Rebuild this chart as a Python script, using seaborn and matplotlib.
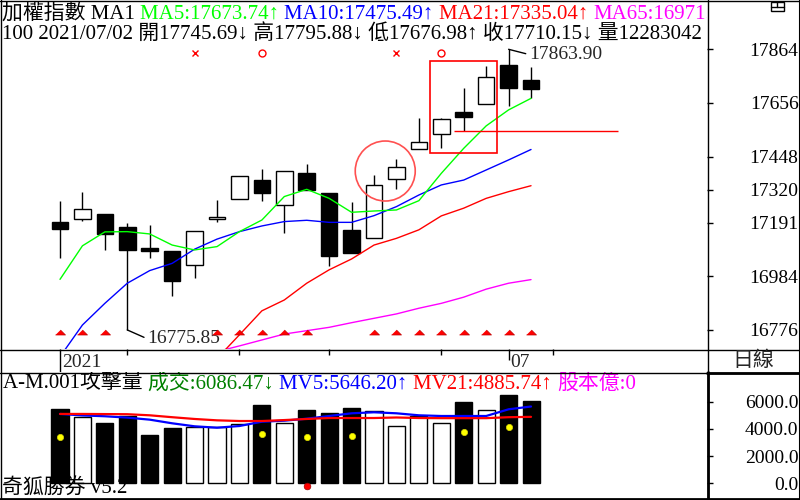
import matplotlib
matplotlib.use('Agg')
import matplotlib.pyplot as plt
import numpy as np
import pandas as pd
import seaborn as sns
from matplotlib.lines import Line2D
from matplotlib.patches import Rectangle
from matplotlib.transforms import IdentityTransform, blended_transform_factory

W, H = 800, 500

# daily bars 2021/06/02 .. 2021/07/02 (22 sessions)
opens = [17193, 17205, 17226, 17175, 17093, 17082, 17027, 17205, 17283, 17357, 17259,
         17384, 17307, 17164, 17131, 17360, 17476, 17534, 17621, 17651, 17803, 17745.69]
highs = [17276, 17311, 17226, 17191, 17183, 17082, 17160, 17279, 17372, 17400, 17392,
         17419, 17307, 17272, 17377, 17439, 17598, 17598, 17714, 17799, 17863.90, 17795.88]
lows = [17056, 17200, 17086, 16775.85, 17056, 16909, 16979, 17196, 17283, 17277, 17153,
        17320, 17025, 17076, 17131, 17324, 17476, 17483, 17547, 17651, 17645, 17676.98]
closes = [17169, 17244, 17149, 17087, 17080, 16967, 17159, 17213, 17372, 17308, 17392,
          17320, 17064, 17076, 17338, 17407, 17504, 17593, 17600, 17755, 17715, 17710.15]

ma5 = [16972, 17102, 17156, 17157, 17148, 17105, 17086, 17099, 17157, 17202, 17293,
       17321, 17286, 17232, 17237, 17241, 17277, 17383, 17480, 17567, 17629, 17673.74]
ma10 = [16672, 16795, 16879, 16957, 17006, 17034, 17089, 17128, 17157, 17179, 17196,
        17201, 17193, 17193, 17219, 17254, 17299, 17338, 17357, 17396, 17435, 17475.49]
ma21 = [16350, 16390, 16430, 16470, 16510, 16560, 16610, 16665, 16757, 16850, 16892,
        16957, 17009, 17051, 17105, 17131, 17164, 17218, 17248, 17286, 17312, 17335.04]
ma65 = [16530, 16550, 16570, 16590, 16610, 16640, 16668, 16692, 16714, 16737, 16760,
        16773, 16786, 16804, 16821, 16838, 16860, 16879, 16903, 16934, 16957, 16971.00]

# attack volume panel
vol = [5463, 4853, 4456, 4949, 3551, 4066, 4162, 4162, 4360, 5779, 4434,
       5412, 5191, 5537, 5316, 4213, 4926, 4434, 5978, 5390, 6493, 6086.47]
mv5 = [5100, 4990, 4930, 4830, 4680, 4412, 4191, 4088, 4213, 4529, 4603,
       4750, 4949, 5147, 5221, 5147, 5000, 4949, 4949, 4949, 5441, 5646.20]
mv21 = [5100, 5100, 5090, 5080, 5000, 4860, 4730, 4630, 4580, 4580, 4650,
        4730, 4800, 4800, 4800, 4840, 4800, 4790, 4790, 4790, 4860, 4885.74]
yellow_dots = [3426, np.nan, np.nan, np.nan, np.nan, np.nan, np.nan, np.nan, np.nan, 3625, np.nan,
               3404, np.nan, 3478, np.nan, np.nan, np.nan, np.nan, 3772, np.nan, 4140, np.nan]
red_dots = [np.nan] * 11 + [-176] + [np.nan] * 10

# signals
tri_flags = [1, 1, 1, 0, 0, 0, 0, 1, 1, 1, 1, 1, 0, 0, 1, 1, 1, 1, 1, 1, 1, 1]
sig_idx = [6, 9, 15, 17]
sig_kind = ['x', 'o', 'x', 'o']

price_ticks = [17864, 17656, 17448, 17320, 17191, 16984, 16776]
vol_ticks = [6000, 4000, 2000, 0]
vol_tick_labels = ['6000.0', '4000.0', '2000.0', '0.0']
date_tick_idx = [0, 3, 8, 12, 17, 20, 22]
date_tick_labels = ['2021', '', '', '', '', '07', '']

GREEN, BLUE, RED, MAGENTA = '#00ff00', '#0000ff', '#ff0000', '#ff00ff'

sns.set_style('white')
plt.rcParams['font.family'] = ['Liberation Serif', 'Noto Sans CJK TC']
FS = 14
HFS = 15

fig = plt.figure(figsize=(8, 5), dpi=100)


def fbox(x0, y0, x1, y1):
    return [x0 / W, 1 - y1 / H, (x1 - x0) / W, (y1 - y0) / H]


def fline(x0, y0, x1, y1, lw=1):
    fig.add_artist(Line2D([x0 / W, x1 / W], [1 - y0 / H, 1 - y1 / H],
                          transform=fig.transFigure, color='black', lw=lw))


ax_p = fig.add_axes(fbox(0, 0, 707, 349))
ax_d = fig.add_axes(fbox(0, 349, 707, 372))
ax_v = fig.add_axes(fbox(0, 372, 707, 498))

step, x_first = 22.43, 60
xlim = (-x_first / step, (707 - x_first) / step)
n = len(closes)
idx = np.arange(n)
o = np.array(opens)
c = np.array(closes)
up = c >= o

# ---- price panel ----
ax_p.vlines(idx, lows, highs, color='black', lw=1, zorder=2)
ax_p.bar(idx, np.maximum(np.abs(c - o), 2), bottom=np.minimum(o, c), width=0.74,
         color=np.where(up, 'white', 'black'), edgecolor='black', linewidth=1, zorder=3)
for vals, col in [(ma65, MAGENTA), (ma21, RED), (ma10, BLUE), (ma5, GREEN)]:
    sns.lineplot(x=idx, y=vals, color=col, lw=1, ax=ax_p, zorder=4)

tr = blended_transform_factory(ax_p.transData, ax_p.transAxes)
tri_x = idx[np.array(tri_flags) == 1]
ax_p.plot(tri_x, np.full(len(tri_x), (349 - 332) / 349), ls='none',
          marker=[(-5, -2.5), (5, -2.5), (0, 2.5)], ms=7.2, color=RED, mec='#c00000',
          mew=0.5, transform=tr, zorder=5)
for i, k in zip(sig_idx, sig_kind):
    ax_p.plot([i], [(349 - 53) / 349], ls='none', marker=k, ms=5, mfc='none', mec=RED,
              mew=1, transform=tr)

# box around the breakout candles, support line at the low of the black candle
box_lo = min(lows[17:20]) - 20
box_hi = max(highs[17:20]) + 20
ax_p.add_patch(Rectangle((16.5, box_lo), 3.0, box_hi - box_lo, fill=False, ec=RED, lw=1.2, zorder=6))
ax_p.hlines(lows[18], 17.55, 24.86, color=RED, lw=1, zorder=6)
ax_p.scatter([14.5], [17392], s=(60 * 0.72) ** 2, facecolors='none', edgecolors='#ff5050',
             linewidths=1.2, zorder=6)

ax_p.annotate(f'{lows[3]:.2f}', xy=(3, lows[3]), xytext=(14.4, -9.6), textcoords='offset points',
              va='baseline', ha='left', fontsize=FS,
              arrowprops=dict(arrowstyle='-', color='black', lw=1, shrinkA=0, shrinkB=0, relpos=(0, 0.5)))
ax_p.annotate(f'{highs[20]:.2f}', xy=(20, highs[20]), xytext=(14.7, -7), textcoords='offset points',
              va='baseline', ha='left', fontsize=FS,
              arrowprops=dict(arrowstyle='-', color='black', lw=1, shrinkA=0, shrinkB=0, relpos=(0, 0.5)))

ax_p.set_xlim(xlim)
ax_p.set_ylim(16702, 18055)
ax_p.set_xticks([])
ax_p.yaxis.tick_right()
ax_p.set_yticks(price_ticks)
ax_p.set_yticklabels([str(t) for t in price_ticks])

# ---- date strip ----
ax_d.set_xlim(xlim)
ax_d.set_ylim(23, 0)
for i, lbl in zip(date_tick_idx, date_tick_labels):
    tick_len = 23 if lbl == '2021' else (11 if lbl else 6)
    ax_d.vlines(i, 0, tick_len, color='black', lw=1)
    if lbl:
        ax_d.annotate(lbl, xy=(i, 17.7), xytext=(1.2, 0), textcoords='offset points',
                      va='baseline', ha='left', fontsize=FS)
ax_d.set_xticks([])
ax_d.set_yticks([])

# ---- volume panel ----
df_vol = pd.DataFrame({'idx': idx, 'vol': vol, 'side': np.where(up, 'up', 'down')})
sns.barplot(data=df_vol, x='idx', y='vol', hue='side', palette={'up': 'white', 'down': 'black'},
            native_scale=True, width=0.76, dodge=False, errorbar=None, edgecolor='black',
            linewidth=1, legend=False, ax=ax_v, zorder=2)
sns.lineplot(x=idx, y=mv5, color=BLUE, lw=1.6, ax=ax_v, zorder=4)
sns.lineplot(x=idx, y=mv21, color=RED, lw=1.6, ax=ax_v, zorder=4)
ax_v.plot(idx, yellow_dots, ls='none', marker='o', ms=4.5, mfc='#ffff00', mec='#d8d800', mew=0.5, zorder=5)
ax_v.plot(idx, red_dots, ls='none', marker='o', ms=4.8, mfc=RED, mec='#a00000', mew=0.5, zorder=5)
ax_v.set_xlim(xlim)
ax_v.set_ylim(-1081, 8184)
ax_v.set_xlabel('')
ax_v.set_ylabel('')
ax_v.set_xticks([])
ax_v.yaxis.tick_right()
ax_v.set_yticks(vol_ticks)
ax_v.set_yticklabels(vol_tick_labels)

for ax in (ax_p, ax_d, ax_v):
    sns.despine(ax=ax, left=True, right=True, top=True, bottom=True)
for ax in (ax_p, ax_v):
    ax.tick_params(axis='y', direction='out', length=4, width=1, pad=61.9, labelsize=FS, colors='black')
    plt.setp(ax.get_yticklabels(), ha='right')

# ---- header texts ----
renderer = fig.canvas.get_renderer()


def text_run(ax, x, y, parts, size=HFS):
    for s, col in parts:
        t = ax.text(x, H - y, s, color=col, fontsize=size, va='baseline', ha='left',
                    transform=IdentityTransform(), clip_on=True, zorder=10)
        x = t.get_window_extent(renderer).x1


text_run(ax_p, 2, 18.5, [('加權指數 MA1 ', 'black'),
                         (f'MA5:{ma5[-1]:.2f}↑ ', GREEN),
                         (f'MA10:{ma10[-1]:.2f}↑ ', BLUE),
                         (f'MA21:{ma21[-1]:.2f}↑ ', RED),
                         (f'MA65:{ma65[-1]:.2f}↑', MAGENTA)])
text_run(ax_p, 2, 38.5, [(f'100 2021/07/02 開{opens[-1]:.2f}↓ 高{highs[-1]:.2f}↓ '
                          f'低{lows[-1]:.2f}↑ 收{closes[-1]:.2f}↓ 量12283042', 'black')])
text_run(ax_v, 3, 388.5, [('A-M.001攻擊量 ', 'black'),
                          (f'成交:{vol[-1]:.2f}↓ ', '#008000'),
                          (f'MV5:{mv5[-1]:.2f}↑ ', BLUE),
                          (f'MV21:{mv21[-1]:.2f}↑ ', RED),
                          ('股本億:0', MAGENTA)])
text_run(ax_v, 2, 494, [('奇狐勝券 v5.2', 'black')])

fig.text(753 / W, 1 - 361 / H, '日線', fontsize=HFS, ha='center', va='center')

# ---- frame lines ----
fline(0, 0.5, 800, 0.5)
fline(0.5, 0, 0.5, 500)
fline(799.5, 0, 799.5, 500, lw=1.5)
fline(0, 498.5, 800, 498.5, lw=2)
fline(707.5, 0, 707.5, 500)
fline(708, 372, 708, 500, lw=2)
fline(0, 349.5, 800, 349.5)
fline(0, 372.5, 800, 372.5)
fline(707, 373, 800, 373, lw=2)
# window icon top right
fig.add_artist(Rectangle((771 / W, 1 - 11 / H), 13 / W, 9 / H, transform=fig.transFigure,
                         fill=False, ec='black', lw=1))
fline(771, 6.7, 784, 6.7)
fline(777, 2, 777, 6.7)

fig.savefig('out.png', dpi=100)
